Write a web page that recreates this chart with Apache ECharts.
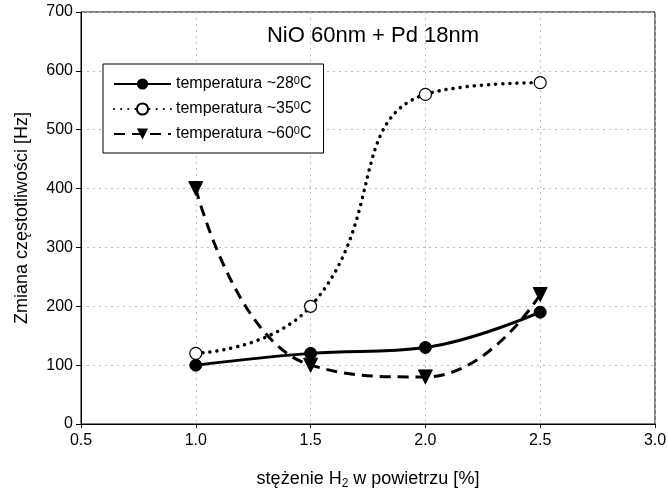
<!DOCTYPE html>
<html>
<head>
<meta charset="utf-8">
<script src="https://cdn.jsdelivr.net/npm/echarts@6/dist/echarts.min.js"></script>
<style>html,body{margin:0;padding:0;background:#fff}#c{width:668px;height:494px}</style>
</head>
<body>
<div id="c"></div>
<script>
const xValues = [1.0, 1.5, 2.0, 2.5];
const t28 = [100, 120, 130, 190];
const t35 = [120, 200, 560, 580];
const t60 = [400, 100, 80, 220];
const seriesNames = ['t28', 't35', 't60'];
const legendLabels = { t28: '28', t35: '35', t60: '60' };
const xTicks = { min: 0.5, max: 3.0, interval: 0.5 };
const yTicks = { min: 0, max: 700, interval: 100 };

const font = 'Liberation Sans, Arial, sans-serif';
const pair = arr => xValues.map((x, i) => [x, arr[i]]);

const chart = echarts.init(document.getElementById('c'), null, { renderer: 'canvas' });
chart.setOption({
  animation: false,
  backgroundColor: '#fff',
  title: {
    text: 'NiO 60nm + Pd 18nm',
    left: 368, top: 20, textAlign: 'center',
    textStyle: { fontFamily: font, fontSize: 22, fontWeight: 'normal', color: '#000' }
  },
  grid: { left: 81, right: 13, top: 12, bottom: 70, show: true, borderColor: '#000', borderWidth: 1, backgroundColor: 'transparent', containLabel: false, outerBoundsMode: 'none' },
  legend: {
    left: 103, top: 64, orient: 'vertical',
    backgroundColor: '#fff', borderColor: '#000', borderWidth: 1,
    padding: [11, 12, 11, 10], itemGap: 8, itemWidth: 57, itemHeight: 14,
    data: seriesNames,
    formatter: n => '{t|temperatura ~' + legendLabels[n] + '}{s|0}{t|C}',
    textStyle: {
      fontFamily: font, fontSize: 16, color: '#000',
      rich: {
        t: { fontFamily: font, fontSize: 16, color: '#000' },
        s: { fontFamily: font, fontSize: 11, color: '#000', verticalAlign: 'top', padding: [0, 0, 7, 0] }
      }
    }
  },
  xAxis: {
    type: 'value', min: xTicks.min, max: xTicks.max, interval: xTicks.interval,
    name: '{a|stężenie H}{b|2}{a| w powietrzu [%]}',
    nameLocation: 'middle', nameGap: 44,
    nameTextStyle: {
      rich: {
        a: { fontFamily: font, fontSize: 18, color: '#000' },
        b: { fontFamily: font, fontSize: 12, color: '#000', verticalAlign: 'bottom', padding: [10, 0, 0, 0] }
      }
    },
    axisLine: { show: true, lineStyle: { color: '#000' } },
    axisTick: { show: true, inside: false, length: 4, lineStyle: { color: '#000' } },
    axisLabel: { fontFamily: font, fontSize: 16, color: '#000', margin: 9, formatter: v => v.toFixed(1) },
    splitLine: { show: true, lineStyle: { color: '#bbb', type: [2, 4], width: 1 } }
  },
  yAxis: {
    type: 'value', min: yTicks.min, max: yTicks.max, interval: yTicks.interval,
    name: 'Zmiana częstotliwości [Hz]', nameLocation: 'middle', nameGap: 50,
    nameTextStyle: { fontFamily: font, fontSize: 18, color: '#000' },
    axisLine: { show: true, lineStyle: { color: '#000' } },
    axisTick: { show: true, inside: false, length: 5, lineStyle: { color: '#000' } },
    axisLabel: { fontFamily: font, fontSize: 16, color: '#000', margin: 8 },
    splitLine: { show: true, lineStyle: { color: '#bbb', type: [2, 4], width: 1 } }
  },
  series: [
    {
      name: 't28', type: 'line', data: pair(t28), smooth: 0.4, smoothConstraint: false,
      symbol: 'circle', symbolSize: 12,
      itemStyle: { color: '#000', borderColor: '#000' },
      lineStyle: { color: '#000', width: 3, type: 'solid' }
    },
    {
      name: 't35', type: 'line', data: pair(t35), smooth: 0.5, smoothConstraint: false,
      symbol: 'circle', symbolSize: 12,
      itemStyle: { color: '#fff', borderColor: '#000', borderWidth: 1.2 },
      lineStyle: { color: '#000', width: 3.5, type: [0.1, 7], cap: 'round' }
    },
    {
      name: 't60', type: 'line', data: pair(t60), smooth: 0.5, smoothConstraint: false,
      symbol: 'triangle', symbolRotate: 180, symbolSize: 14,
      itemStyle: { color: '#000', borderColor: '#000' },
      lineStyle: { color: '#000', width: 3, type: [11, 7] }
    }
  ]
});
</script>
</body>
</html>
